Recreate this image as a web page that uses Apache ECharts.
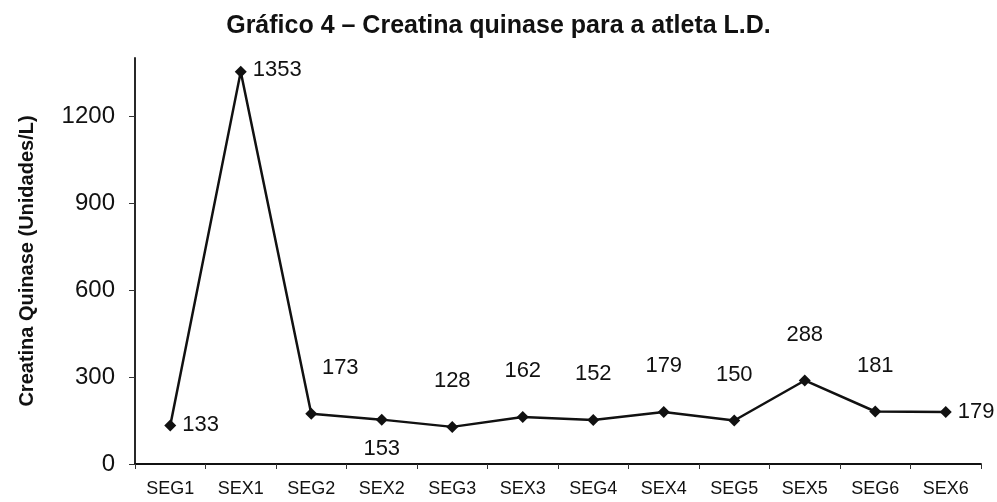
<!DOCTYPE html>
<html><head><meta charset="utf-8">
<script src="https://cdn.jsdelivr.net/npm/echarts@6/dist/echarts.min.js"></script>
<style>html,body{margin:0;padding:0;background:#fff}#c{width:997px;height:502px}</style>
</head><body><div id="c"></div>
<script>
const categories = ['SEG1','SEX1','SEG2','SEX2','SEG3','SEX3','SEG4','SEX4','SEG5','SEX5','SEG6','SEX6'];
const values = [133, 1353, 173, 153, 128, 162, 152, 179, 150, 288, 181, 179];
const yTicks = [0, 300, 600, 900, 1200];
const titleText = 'Gráfico 4 – Creatina quinase para a atleta L.D.';
const yName = 'Creatina Quinase (Unidades/L)';

const labelPlacement = ['right','right','topRight','bottom','top','top','top','top','top','top','top','right'];

const data = values.map((v, i) => {
  const p = labelPlacement[i];
  let label;
  if (p === 'right') label = {position: 'right', distance: 6, offset: i === 1 ? [0, -2] : [0, 0]};
  else if (p === 'bottom') label = {position: 'bottom', distance: 12};
  else if (p === 'topRight') label = {position: 'top', distance: 29, offset: [29, 0]};
  else label = {position: 'top', distance: 29};
  return {value: v, label};
});

const chart = echarts.init(document.getElementById('c'));
chart.setOption({
  animation: false,
  backgroundColor: '#fff',
  textStyle: {fontFamily: 'Liberation Sans, Arial, sans-serif'},
  title: {
    text: titleText, left: 'center', top: 9,
    textStyle: {fontSize: 25, fontWeight: 'bold', color: '#111', fontFamily: 'Liberation Sans, Arial, sans-serif'}
  },
  grid: {left: 135, right: 16, top: 58, bottom: 38},
  xAxis: {
    type: 'category', data: categories, boundaryGap: true,
    axisLine: {lineStyle: {color: '#111', width: 1.8}},
    axisTick: {show: true, alignWithLabel: false, length: 5, lineStyle: {color: '#333'}},
    axisLabel: {color: '#111', fontSize: 18, margin: 16, fontFamily: 'Liberation Sans Narrow, Arial Narrow, sans-serif'}
  },
  yAxis: {
    type: 'value', min: 0, max: 1400, interval: 300,
    name: yName, nameLocation: 'middle', nameGap: 98, nameRotate: 90,
    nameTextStyle: {fontSize: 20, fontWeight: 'bold', color: '#111'},
    axisLine: {show: true, lineStyle: {color: '#111', width: 1.8}},
    axisTick: {show: true, length: 6, lineStyle: {color: '#333'}},
    axisLabel: {color: '#111', fontSize: 24, margin: 20, showMaxLabel: false,
      formatter: v => yTicks.includes(v) ? String(v) : ''},
    splitLine: {show: false}
  },
  series: [{
    type: 'line', data,
    symbol: 'diamond', symbolSize: 12,
    lineStyle: {color: '#111', width: 2.5},
    itemStyle: {color: '#111'},
    label: {show: true, color: '#111', fontSize: 22}
  }]
});
</script></body></html>
